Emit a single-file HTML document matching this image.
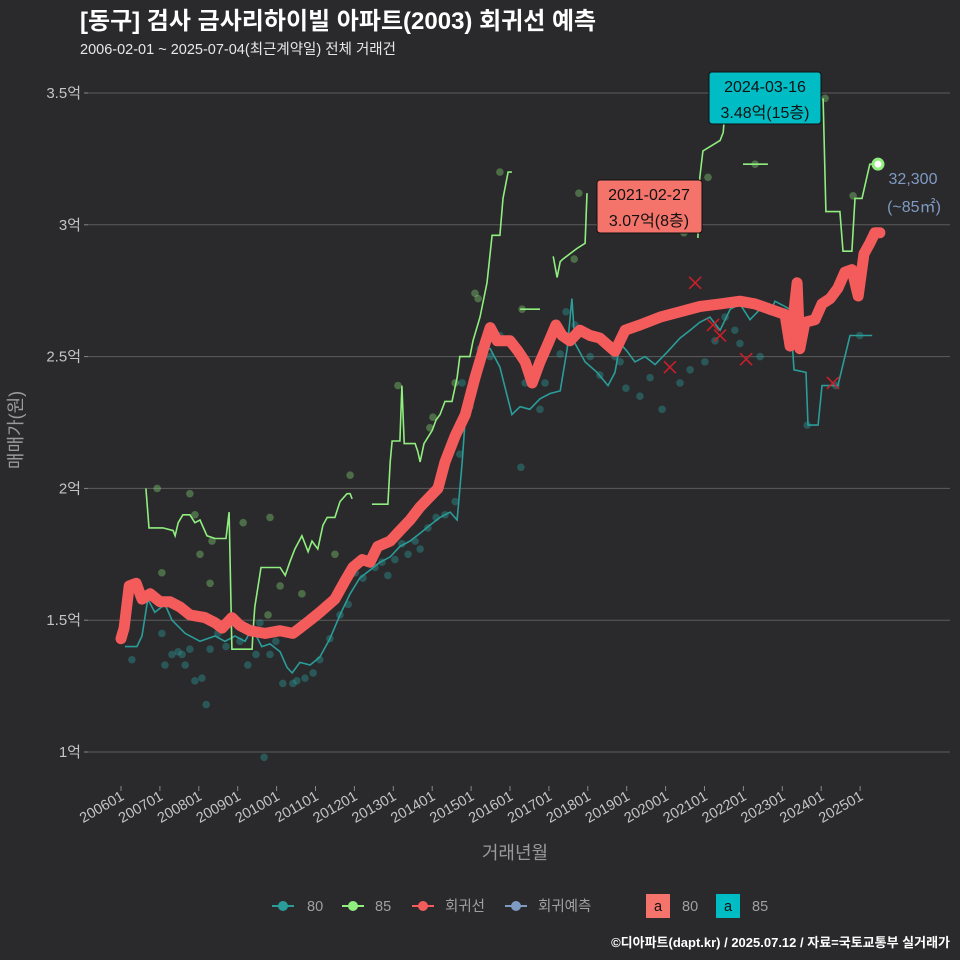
<!DOCTYPE html>
<html><head><meta charset="utf-8"><style>
body{margin:0;background:#2a292b;}
svg{display:block;font-family:"Liberation Sans","Noto Sans CJK KR",sans-serif;}
</style></head><body>
<svg id="c" width="960" height="960" xmlns="http://www.w3.org/2000/svg">
<rect width="960" height="960" fill="#2a292b"/>
<text x="80" y="29" font-size="24" font-weight="bold" fill="#ffffff">[동구] 검사 금사리하이빌 아파트(2003) 회귀선 예측</text>
<text x="80" y="54" font-size="14.5" fill="#e8e8e8">2006-02-01 ~ 2025-07-04(최근계약일) 전체 거래건</text>
<g id="grid"></g><g id="marks"></g>
<text transform="translate(22,430) rotate(-90)" text-anchor="middle" font-size="18" fill="#9a9a9a">매매가(원)</text>
<text x="515" y="859" text-anchor="middle" font-size="18" fill="#9a9a9a">거래년월</text>
<g>
<rect x="597" y="180" width="105" height="53" rx="3" fill="#f4736b" stroke="#111" stroke-width="1"/>
<text x="649" y="200" text-anchor="middle" font-size="16" fill="#111">2021-02-27</text>
<text x="649" y="226" text-anchor="middle" font-size="16" fill="#111">3.07억(8층)</text>
</g>
<g>
<rect x="709" y="72" width="112" height="52" rx="3" fill="#00bcc4" stroke="#111" stroke-width="1"/>
<text x="765" y="92" text-anchor="middle" font-size="16" fill="#111">2024-03-16</text>
<text x="765" y="118" text-anchor="middle" font-size="16" fill="#111">3.48억(15층)</text>
</g>
<text x="913" y="184" text-anchor="middle" font-size="16" fill="#7f9bc4">32,300</text>
<text x="914" y="212" text-anchor="middle" font-size="16" fill="#7f9bc4">(~85㎡)</text>
<g font-size="14.5" fill="#a0a0a0">
<g><line x1="272" y1="906" x2="294" y2="906" stroke="#2a9d9a" stroke-width="2"/><circle cx="283" cy="906" r="5" fill="#2a9d9a"/><text x="307" y="911">80</text></g>
<g><line x1="342" y1="906" x2="364" y2="906" stroke="#90ee7f" stroke-width="2"/><circle cx="353" cy="906" r="5" fill="#90ee7f"/><text x="375" y="911">85</text></g>
<g><line x1="412" y1="906" x2="434" y2="906" stroke="#f45c5c" stroke-width="2"/><circle cx="423" cy="906" r="5" fill="#f45c5c"/><text x="445" y="911">회귀선</text></g>
<g><line x1="505" y1="906" x2="527" y2="906" stroke="#7f9bc4" stroke-width="2"/><circle cx="516" cy="906" r="5" fill="#7f9bc4"/><text x="538" y="911">회귀예측</text></g>
<g><rect x="646" y="894" width="24" height="24" fill="#f4736b"/><text x="658" y="911" text-anchor="middle" fill="#111">a</text><text x="682" y="911">80</text></g>
<g><rect x="716" y="894" width="24" height="24" fill="#00bcc4"/><text x="728" y="911" text-anchor="middle" fill="#111">a</text><text x="752" y="911">85</text></g>
</g>
<text x="950" y="947" text-anchor="end" font-size="13" font-weight="bold" fill="#ffffff">©디아파트(dapt.kr) / 2025.07.12 / 자료=국토교통부 실거래가</text>
</svg>
<script>
const yTicks=[1,1.5,2,2.5,3,3.5];
const yTickLabels=["1억","1.5억","2억","2.5억","3억","3.5억"];
const xTicks=[2006,2007,2008,2009,2010,2011,2012,2013,2014,2015,2016,2017,2018,2019,2020,2021,2022,2023,2024,2025];
const xTickLabels=["200601","200701","200801","200901","201001","201101","201201","201301","201401","201501","201601","201701","201801","201901","202001","202101","202201","202301","202401","202501"];
const regT=[2006.0,2006.08,2006.21,2006.39,2006.54,2006.75,2007.0,2007.26,2007.52,2007.77,2008.16,2008.42,2008.6,2008.85,2009.06,2009.32,2009.7,2010.09,2010.42,2010.6,2010.86,2011.11,2011.5,2011.76,2011.96,2012.2,2012.4,2012.6,2012.92,2013.17,2013.43,2013.69,2013.95,2014.15,2014.33,2014.59,2014.85,2015.1,2015.36,2015.49,2015.67,2016.0,2016.21,2016.39,2016.57,2016.77,2016.98,2017.18,2017.34,2017.54,2017.8,2018.06,2018.31,2018.7,2018.96,2019.34,2019.86,2020.37,2020.88,2021.4,2021.91,2022.3,2022.68,2023.07,2023.2,2023.38,2023.45,2023.58,2023.84,2024.02,2024.23,2024.43,2024.61,2024.79,2024.95,2025.1,2025.25,2025.38,2025.51];
const regV=[1.43,1.47,1.63,1.64,1.58,1.60,1.57,1.57,1.55,1.52,1.51,1.49,1.47,1.51,1.48,1.46,1.45,1.46,1.45,1.47,1.50,1.53,1.58,1.65,1.70,1.73,1.72,1.78,1.80,1.84,1.88,1.93,1.97,2.00,2.10,2.20,2.28,2.42,2.55,2.61,2.56,2.56,2.52,2.48,2.40,2.48,2.55,2.62,2.58,2.56,2.60,2.58,2.57,2.52,2.60,2.62,2.65,2.67,2.69,2.70,2.71,2.70,2.68,2.66,2.54,2.78,2.53,2.63,2.64,2.70,2.72,2.76,2.82,2.83,2.73,2.89,2.93,2.97,2.97];
const s80T=[2006.1,2006.41,2006.54,2006.69,2006.87,2007.13,2007.31,2007.65,2008.03,2008.42,2008.67,2008.93,2009.19,2009.37,2009.62,2009.83,2010.09,2010.27,2010.4,2010.6,2010.86,2011.11,2011.37,2011.63,2011.89,2012.14,2012.4,2012.66,2012.92,2013.17,2013.43,2013.69,2013.94,2014.2,2014.46,2014.64,2014.77,2014.89,2015.1,2015.36,2015.49,2015.74,2016.05,2016.26,2016.51,2016.77,2017.03,2017.29,2017.47,2017.59,2017.67,2017.93,2018.24,2018.52,2018.7,2018.83,2019.01,2019.21,2019.47,2019.73,2020.06,2020.37,2020.63,2020.88,2021.14,2021.4,2021.66,2021.91,2022.17,2022.43,2022.68,2022.81,2023.2,2023.3,2023.61,2023.66,2023.92,2024.02,2024.43,2024.61,2024.74,2025.31];
const s80V=[1.40,1.40,1.44,1.58,1.53,1.56,1.50,1.45,1.42,1.44,1.42,1.44,1.42,1.47,1.40,1.41,1.38,1.32,1.30,1.34,1.33,1.36,1.43,1.52,1.60,1.66,1.69,1.72,1.74,1.78,1.80,1.83,1.86,1.89,1.91,1.88,2.10,2.35,2.48,2.53,2.53,2.46,2.28,2.31,2.30,2.34,2.36,2.37,2.53,2.72,2.55,2.48,2.44,2.39,2.44,2.55,2.52,2.48,2.50,2.47,2.52,2.57,2.60,2.63,2.65,2.60,2.68,2.70,2.64,2.68,2.66,2.71,2.68,2.45,2.44,2.24,2.24,2.39,2.39,2.50,2.58,2.58];
const s85Segments=[
 [[2006.64,2.00],[2006.72,1.85],[2007.08,1.85],[2007.34,1.84],[2007.39,1.82],[2007.47,1.87],[2007.59,1.90],[2007.77,1.90],[2007.9,1.87],[2008.03,1.88],[2008.21,1.82],[2008.42,1.81],[2008.7,1.81],[2008.78,1.91],[2008.85,1.39],[2009.37,1.39],[2009.39,1.45],[2009.44,1.55],[2009.6,1.70],[2010.09,1.70],[2010.22,1.67],[2010.34,1.72],[2010.47,1.77],[2010.65,1.82],[2010.81,1.76],[2010.91,1.80],[2011.06,1.77],[2011.19,1.86],[2011.3,1.89],[2011.5,1.89],[2011.63,1.95],[2011.81,1.98],[2011.89,1.98],[2011.94,1.96]],
 [[2012.45,1.94],[2012.86,1.94],[2012.92,2.10],[2012.97,2.18],[2013.17,2.18],[2013.22,2.39],[2013.28,2.17],[2013.56,2.17],[2013.63,2.14],[2013.69,2.10],[2013.79,2.17],[2014.0,2.22],[2014.1,2.26],[2014.2,2.28],[2014.33,2.33],[2014.51,2.33],[2014.64,2.42],[2014.71,2.50],[2014.97,2.50],[2015.05,2.56],[2015.23,2.65],[2015.41,2.78],[2015.54,2.96],[2015.74,2.96],[2015.82,3.10],[2015.95,3.20],[2016.05,3.20]],
 [[2016.26,2.68],[2016.77,2.68]],
 [[2017.11,2.88],[2017.21,2.80],[2017.29,2.86],[2017.36,2.87],[2017.72,2.91],[2017.93,2.93],[2017.98,3.12]],
 [[2020.83,2.95],[2020.88,3.18],[2020.96,3.28],[2021.4,3.32],[2021.48,3.35],[2021.53,3.44]],
 [[2021.99,3.23],[2022.63,3.23]],
 [[2024.05,3.48],[2024.12,3.05],[2024.48,3.05],[2024.56,2.90],[2024.79,2.90],[2024.87,3.10],[2025.05,3.10],[2025.25,3.23],[2025.46,3.23]]
];
const dot80T=[2006.28,2006.75,2007.05,2007.13,2007.31,2007.47,2007.57,2007.65,2007.77,2007.9,2008.08,2008.19,2008.29,2008.49,2008.7,2009.06,2009.26,2009.47,2009.57,2009.68,2009.83,2009.98,2010.16,2010.42,2010.52,2010.73,2010.94,2011.11,2011.37,2011.63,2011.84,2012.02,2012.22,2012.53,2012.71,2012.86,2013.04,2013.22,2013.38,2013.56,2013.69,2013.89,2014.1,2014.33,2014.59,2014.71,2014.77,2014.97,2015.23,2015.49,2015.74,2016.28,2016.39,2016.77,2016.9,2017.29,2017.44,2017.67,2018.06,2018.31,2018.7,2018.83,2018.98,2019.34,2019.6,2019.91,2020.37,2020.63,2021.01,2021.27,2021.53,2021.78,2021.91,2022.43,2023.07,2023.64,2024.38,2024.99];
const dot80V=[1.35,1.60,1.45,1.33,1.37,1.38,1.37,1.33,1.39,1.27,1.28,1.18,1.39,1.45,1.40,1.42,1.33,1.37,1.49,0.98,1.37,1.42,1.26,1.26,1.27,1.28,1.30,1.35,1.43,1.52,1.56,1.68,1.66,1.70,1.72,1.67,1.73,1.79,1.75,1.80,1.77,1.85,1.89,1.90,1.95,2.13,2.40,2.31,2.53,2.50,2.58,2.08,2.40,2.30,2.40,2.51,2.67,2.62,2.50,2.43,2.50,2.48,2.38,2.35,2.42,2.30,2.40,2.45,2.48,2.56,2.65,2.60,2.55,2.50,2.67,2.24,2.39,2.58];
const dot85T=[2006.93,2007.05,2007.77,2007.9,2008.03,2008.29,2008.34,2009.14,2009.78,2010.09,2009.83,2010.65,2011.5,2011.89,2013.12,2013.94,2014.02,2014.59,2015.1,2015.18,2015.74,2016.31,2017.65,2017.77,2018.31,2020.47,2021.09,2022.3,2024.1,2024.82];
const dot85V=[2.00,1.68,1.98,1.90,1.75,1.64,1.80,1.87,1.52,1.63,1.89,1.60,1.75,2.05,2.39,2.23,2.27,2.40,2.74,2.72,3.20,2.68,2.87,3.12,3.00,2.97,3.18,3.23,3.48,3.11];
const cancelT=[2020.11,2020.76,2021.22,2021.4,2022.07,2024.3];
const cancelV=[2.46,2.78,2.62,2.58,2.49,2.40];
const lastT=[2025.46], lastV=[3.23];

const NS="http://www.w3.org/2000/svg";
const X=t=>121+(t-2006)*38.9;
const Y=v=>752-(v-1)*263.6;
function mk(tag,attrs,parent){const e=document.createElementNS(NS,tag);for(const k in attrs)e.setAttribute(k,attrs[k]);parent.appendChild(e);return e;}
const grid=document.getElementById('grid'), marks=document.getElementById('marks');
yTicks.forEach((v,i)=>{
 const l=mk('line',{x1:88,x2:950,y1:Y(v),y2:Y(v),stroke:'#5c5c5c','stroke-width':1},grid);
 
 
 const tk=mk('line',{x1:84,x2:88,y1:Y(v),y2:Y(v),stroke:'#888'},grid);
 
 
 const t=mk('text',{x:81,y:Y(v)+5,'text-anchor':'end','font-size':15,fill:'#c4c4c4'},grid);
 t.textContent=yTickLabels[i];
 
 
});
xTicks.forEach((tv,i)=>{
 const x=X(tv);
 const tk=mk('line',{x1:x,x2:x,y1:786,y2:791,stroke:'#888'},grid);
 
 
 const t=mk('text',{transform:`translate(${x+4},${799}) rotate(-30)`,'text-anchor':'end','font-size':14.5,fill:'#c4c4c4'},grid);
 t.textContent=xTickLabels[i];
 
 
});
function pathFrom(ts,vs){return ts.map((t,i)=>(i?'L':'M')+X(t).toFixed(1)+','+Y(vs[i]).toFixed(1)).join('');}
dot80T.forEach((t,i)=>{const c=mk('circle',{cx:X(t),cy:Y(dot80V[i]),r:3.8,fill:'#2a9d9a','fill-opacity':0.4},marks);
 
 });
dot85T.forEach((t,i)=>{const c=mk('circle',{cx:X(t),cy:Y(dot85V[i]),r:3.8,fill:'#90ee7f','fill-opacity':0.35},marks);
 
 });
const p80=mk('path',{d:pathFrom(s80T,s80V),fill:'none',stroke:'#2a9d9a','stroke-width':1.6},marks);


s85Segments.forEach(seg=>{const p=mk('path',{d:pathFrom(seg.map(d=>d[0]),seg.map(d=>d[1])),fill:'none',stroke:'#90ee7f','stroke-width':1.6},marks);
 
 });
const pr=mk('path',{d:pathFrom(regT,regV),fill:'none',stroke:'#f45c5c','stroke-width':11,'stroke-linejoin':'round','stroke-linecap':'round'},marks);


cancelT.forEach((t,i)=>{const x=X(t),y=Y(cancelV[i]);
 const g=mk('path',{d:`M${x-6},${y-6}L${x+6},${y+6}M${x-6},${y+6}L${x+6},${y-6}`,stroke:'#c8202a','stroke-width':1.6,fill:'none'},marks);
 
 });
lastT.forEach((t,i)=>{const c=mk('circle',{cx:X(t),cy:Y(lastV[i]),r:5,fill:'#ffffff',stroke:'#90ee7f','stroke-width':3},marks);
 
 });
</script>
</body></html>
